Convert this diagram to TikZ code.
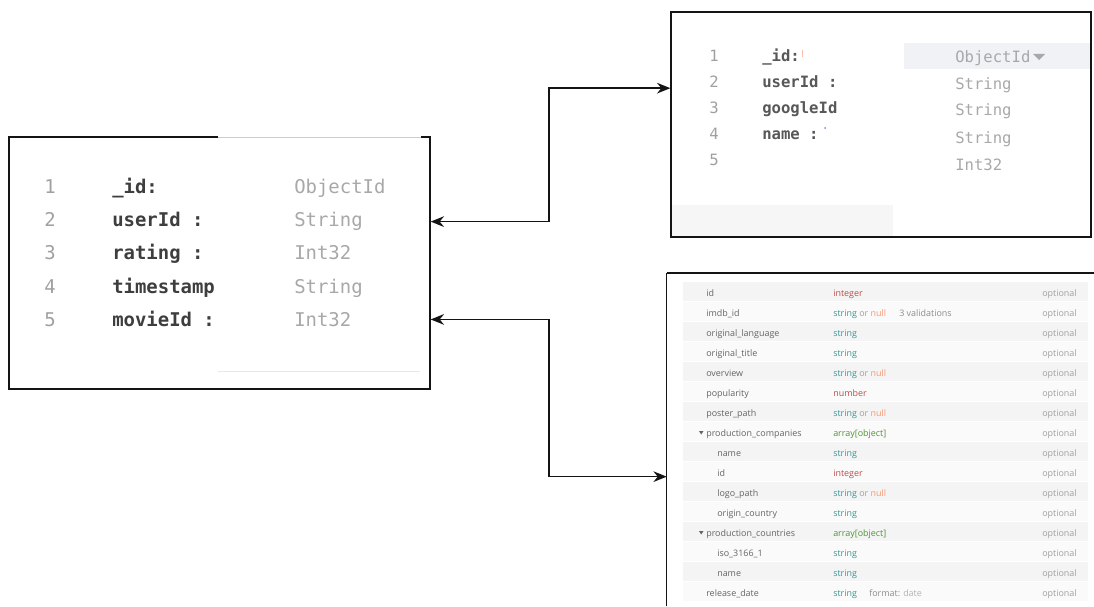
\documentclass[tikz,border=0pt]{standalone}
\usepackage{fontspec}
\setmonofont{DejaVu Sans Mono}
\newfontfamily\schemafont{Open Sans}
\usepackage{xcolor}
\usepackage{tikz}
\usetikzlibrary{
  arrows.meta,
  fit
}
\definecolor{EdgeBlack}{RGB}{20, 20, 20}
\definecolor{NumGray}{RGB}{160, 160, 160}
\definecolor{KeyDark}{RGB}{62, 62, 62}
\definecolor{KeyMid}{RGB}{88, 88, 88}
\definecolor{TypeGray}{RGB}{168, 168, 168}
\definecolor{FieldGray}{RGB}{100, 100, 100}
\definecolor{NoteGray}{RGB}{140, 140, 140}
\definecolor{OptGray}{RGB}{160, 160, 160}
\definecolor{StrTeal}{RGB}{58, 150, 150}
\definecolor{IntRed}{RGB}{190, 75, 72}
\definecolor{NullOrange}{RGB}{248, 150, 115}
\definecolor{ArrGreen}{RGB}{78, 150, 48}
\definecolor{HeadFill}{RGB}{240, 242, 245}
\definecolor{FootFill}{RGB}{246, 246, 246}
\definecolor{BandA}{RGB}{244, 244, 244}
\definecolor{BandB}{RGB}{250, 250, 250}
\definecolor{LightEdge}{RGB}{205, 205, 205}
\definecolor{FaintEdge}{RGB}{232, 232, 232}

\newcommand{\bigmono}{\fontsize{14.2}{17}\selectfont\ttfamily}
\newcommand{\midmono}{\fontsize{11.7}{14}\selectfont\ttfamily}
\newcommand{\smallsans}{\fontsize{6.7}{8}\selectfont\schemafont}
\newcommand{\tyStr}{\textcolor{StrTeal}{string}}
\newcommand{\tyInt}{\textcolor{IntRed}{integer}}
\newcommand{\tyArr}{\textcolor{ArrGreen}{array[object]}}
\newcommand{\orNull}{\textcolor{OptGray}{or} \textcolor{NullOrange}{null}}

\tikzset{
  frame/.style={draw=EdgeBlack, line width=1pt, inner sep=0pt},
  rownum/.style={anchor=base west, inner sep=0pt, text=NumGray},
  ratingkey/.style={anchor=base west, inner sep=0pt, text=KeyDark, font=\bigmono\bfseries},
  ratingtype/.style={anchor=base west, inner sep=0pt, text=TypeGray, font=\bigmono},
  userkey/.style={anchor=base west, inner sep=0pt, text=KeyMid, font=\midmono\bfseries},
  usertype/.style={anchor=base west, inner sep=0pt, text=TypeGray, font=\midmono},
  fieldtxt/.style={anchor=base west, inner sep=0pt, text=FieldGray, font=\smallsans},
  typetxt/.style={anchor=base west, inner sep=0pt, font=\smallsans},
  notetxt/.style={anchor=base west, inner sep=0pt, text=NoteGray, font=\smallsans},
  opttxt/.style={anchor=base west, inner sep=0pt, text=OptGray, font=\smallsans},
  link/.style={draw=EdgeBlack, line width=1.1pt,
    arrows={Stealth[length=10pt, width=8pt]-Stealth[length=10pt, width=8pt]}}
}

\begin{document}
\begin{tikzpicture}[x=0.75pt, y=-0.75pt]
\useasboundingbox (0,0) rectangle (1094,606);

% ratings collection
\node[frame, fit={(9,137) (430,389)}] (ratings) {};
\draw[white, line width=1.6pt] (218,137) -- (421,137);
\draw[LightEdge, line width=0.5pt] (218,137) -- (421,137);
\draw[FaintEdge, line width=0.5pt] (218,371) -- (420,371);

\node[rownum, font=\bigmono] (rNum1) at (44,193) {1};
\node[rownum, font=\bigmono] (rNum2) at (44,226) {2};
\node[rownum, font=\bigmono] (rNum3) at (44,259.5) {3};
\node[rownum, font=\bigmono] (rNum4) at (44,293) {4};
\node[rownum, font=\bigmono] (rNum5) at (44,326) {5};
\node[ratingkey] (rId) at (112,193) {\_id:};
\node[ratingkey] (rUser) at (112,226) {userId :};
\node[ratingkey] (rRating) at (112,259.5) {rating :};
\node[ratingkey] (rTime) at (112,293) {timestamp};
\node[ratingkey] (rMovie) at (112,326) {movieId :};
\node[ratingtype] (rIdT) at (294,193) {ObjectId};
\node[ratingtype] (rUserT) at (294,226) {String};
\node[ratingtype] (rRatingT) at (294,259.5) {Int32};
\node[ratingtype] (rTimeT) at (294,293) {String};
\node[ratingtype] (rMovieT) at (294,326) {Int32};

% users collection
\fill[HeadFill] (904,43) rectangle (1091,69);
\fill[FootFill] (671,205) rectangle (893,236);
\node[frame, fit={(671,12) (1091,237)}] (users) {};

\node[rownum, font=\midmono] (uNum1) at (709,62) {1};
\node[rownum, font=\midmono] (uNum2) at (709,88) {2};
\node[rownum, font=\midmono] (uNum3) at (709,114) {3};
\node[rownum, font=\midmono] (uNum4) at (709,140) {4};
\node[rownum, font=\midmono] (uNum5) at (709,166) {5};
\node[userkey] (uId) at (762,62) {\_id:};
\node[userkey] (uUser) at (762,88) {userId :};
\node[userkey] (uGoogle) at (762,114) {googleId};
\node[userkey] (uName) at (762,140) {name :};
\node[usertype] (uIdT) at (955,63) {ObjectId};
\node[usertype] (uUserT) at (955,89.5) {String};
\node[usertype] (uGoogleT) at (955,116) {String};
\node[usertype] (uNameT) at (955,143) {String};
\node[usertype] (uIntT) at (955,170) {Int32};
\fill[TypeGray] (1033,54) -- (1045,54) -- (1039,60) -- cycle;
\draw[NullOrange!60, line width=0.6pt] (802,50) -- (802,57);
\fill[StrTeal!40!blue!60] (825,128) circle (1);

% movies schema
\foreach \k in {0,2,...,14}
  \fill[BandA] (683,{282+20*\k}) rectangle (1088,{301+20*\k});
\foreach \k in {1,3,...,15}
  \fill[BandB] (683,{282+20*\k}) rectangle (1088,{301+20*\k});
\node[inner sep=0pt, fit={(667,273) (1094,606)}] (movies) {};
\draw[EdgeBlack, line width=1pt] (movies.south west) -- (movies.north west);
\draw[EdgeBlack, line width=1.6pt] (movies.north west) -- (movies.north east);

\node[fieldtxt] (mId) at (706,296) {id};
\node[typetxt] (mIdT) at (833,296) {\tyInt};
\node[fieldtxt] (mImdb) at (706,316) {imdb\_id};
\node[typetxt] (mImdbT) at (833,316) {\tyStr{} \orNull};
\node[notetxt] (mImdbN) at (899,316) {3 validations};
\node[fieldtxt] (mLang) at (706,336) {original\_language};
\node[typetxt] (mLangT) at (833,336) {\tyStr};
\node[fieldtxt] (mTitle) at (706,356) {original\_title};
\node[typetxt] (mTitleT) at (833,356) {\tyStr};
\node[fieldtxt] (mOver) at (706,376) {overview};
\node[typetxt] (mOverT) at (833,376) {\tyStr{} \orNull};
\node[fieldtxt] (mPop) at (706,396) {popularity};
\node[typetxt] (mPopT) at (833,396) {\textcolor{IntRed}{number}};
\node[fieldtxt] (mPoster) at (706,416) {poster\_path};
\node[typetxt] (mPosterT) at (833,416) {\tyStr{} \orNull};
\node[fieldtxt] (mComp) at (706,436) {production\_companies};
\node[typetxt] (mCompT) at (833,436) {\tyArr};
\node[fieldtxt] (mCName) at (717,456) {name};
\node[typetxt] (mCNameT) at (833,456) {\tyStr};
\node[fieldtxt] (mCId) at (717,476) {id};
\node[typetxt] (mCIdT) at (833,476) {\tyInt};
\node[fieldtxt] (mLogo) at (717,496) {logo\_path};
\node[typetxt] (mLogoT) at (833,496) {\tyStr{} \orNull};
\node[fieldtxt] (mOrigin) at (717,516) {origin\_country};
\node[typetxt] (mOriginT) at (833,516) {\tyStr};
\node[fieldtxt] (mCountries) at (706,536) {production\_countries};
\node[typetxt] (mCountriesT) at (833,536) {\tyArr};
\node[fieldtxt] (mIso) at (717,556) {iso\_3166\_1};
\node[typetxt] (mIsoT) at (833,556) {\tyStr};
\node[fieldtxt] (mCoName) at (717,576) {name};
\node[typetxt] (mCoNameT) at (833,576) {\tyStr};
\node[fieldtxt] (mRelease) at (706,596) {release\_date};
\node[typetxt] (mReleaseT) at (833,596) {\tyStr};
\node[notetxt] (mReleaseN) at (869,596) {format: \textcolor{OptGray!80}{date}};
\foreach \k in {0,...,15}
  \node[opttxt] (mOpt\k) at (1042,{296+20*\k}) {optional};
\fill[FieldGray] (699,431) -- (703.5,431) -- (701.2,434.5) -- cycle;
\fill[FieldGray] (699,531) -- (703.5,531) -- (701.2,534.5) -- cycle;

% connectors
\coordinate (hop) at (549,0);
\coordinate (pA) at ([yshift=-2pt]rUser.west);
\coordinate (pB) at ([yshift=-4.5pt]uUser.west);
\coordinate (pC) at ([yshift=-0.75pt]rMovie.west);
\coordinate (pD) at ([yshift=-3pt]mCId.west);
\draw[link] (ratings.east |- pA) -- (hop |- pA) -- (hop |- pB) -- (users.west |- pB);
\draw[link] (ratings.east |- pC) -- (hop |- pC) -- (hop |- pD) -- (movies.west |- pD);
\end{tikzpicture}
\end{document}
